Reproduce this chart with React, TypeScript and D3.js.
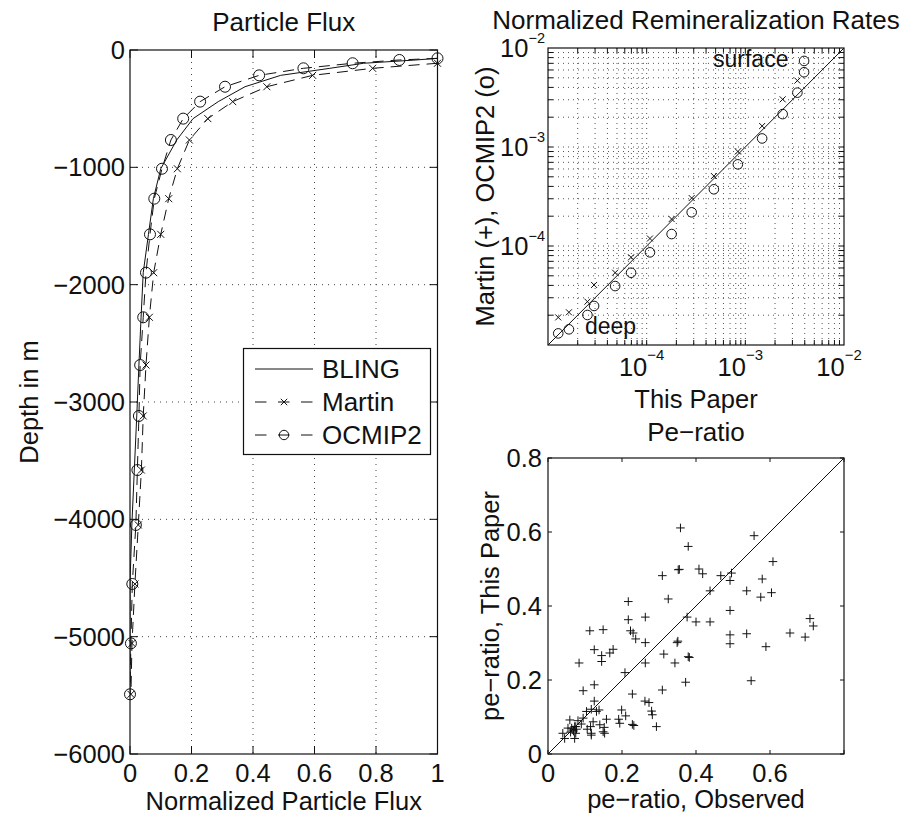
import React from 'react'
import * as d3 from 'd3'

// ---- Particle flux profiles (left panel) ----
const depthLevels = [-71, -85, -113, -156, -216, -313, -440, -585, -767, -1012, -1267, -1571, -1898, -2278, -2685, -3119, -3580, -4048, -4551, -5057, -5491]
const blingFlux = [1.0, 0.93, 0.76, 0.65, 0.49, 0.374, 0.287, 0.205, 0.152, 0.1, 0.076, 0.06, 0.043, 0.036, 0.029, 0.022, 0.014, 0.006, 0.0, 0.0, 0.0]
const martinFlux = [null, null, 1.0, 0.789, 0.594, 0.445, 0.334, 0.253, 0.193, 0.154, 0.126, 0.1, 0.077, 0.063, 0.052, 0.043, 0.037, 0.027, 0.016, 0.0065, 0.003]
const ocmipFlux = [1.0, 0.876, 0.724, 0.564, 0.42, 0.309, 0.228, 0.173, 0.133, 0.104, 0.079, 0.065, 0.052, 0.043, 0.033, 0.029, 0.024, 0.019, 0.0075, 0.003, 0.0]
const fluxTicks = [0, 0.2, 0.4, 0.6, 0.8, 1]
const depthTicks = [-6000, -5000, -4000, -3000, -2000, -1000, 0]

// ---- Normalized remineralization rates (top right) ----
const paperRate = [3.94e-3, 3.94e-3, 3.37e-3, 2.39e-3, 1.48e-3, 8.4e-4, 4.8e-4, 2.86e-4, 1.79e-4, 1.08e-4, 6.95e-5, 4.79e-5, 2.93e-5, 2.51e-5, 1.63e-5, 1.27e-5]
const ocmipRate = [7.4e-3, 5.69e-3, 3.54e-3, 2.15e-3, 1.22e-3, 6.68e-4, 3.74e-4, 2.19e-4, 1.32e-4, 8.63e-5, 5.37e-5, 3.94e-5, 2.48e-5, 2.01e-5, 1.44e-5, 1.31e-5]
const martinRate = [null, null, 4.68e-3, 3.03e-3, 1.63e-3, 9.0e-4, 5.09e-4, 3.05e-4, 1.87e-4, 1.19e-4, 7.69e-5, 5.37e-5, 4.04e-5, 2.74e-5, 2.14e-5, 1.9e-5]
const rateExponents = [-4, -3, -2]

// ---- Pe-ratio scatter (bottom right) ----
const peObserved = [0.358, 0.557, 0.379, 0.608, 0.352, 0.355, 0.408, 0.418, 0.309, 0.467, 0.496, 0.492, 0.579, 0.438, 0.537, 0.604, 0.575, 0.325, 0.217, 0.492,
  0.217, 0.263, 0.376, 0.4, 0.438, 0.708, 0.717, 0.113, 0.149, 0.223, 0.23, 0.237, 0.263, 0.349, 0.351, 0.492, 0.492, 0.537, 0.589, 0.654,
  0.695, 0.125, 0.176, 0.167, 0.145, 0.145, 0.084, 0.263, 0.313, 0.343, 0.379, 0.382, 0.208, 0.372, 0.549, 0.125, 0.095, 0.309, 0.228, 0.125,
  0.262, 0.273, 0.199, 0.28, 0.282, 0.138, 0.117, 0.104, 0.21, 0.191, 0.228, 0.232, 0.293, 0.194, 0.158, 0.152, 0.149, 0.14, 0.122, 0.115,
  0.117, 0.106, 0.095, 0.09, 0.081, 0.072, 0.068, 0.075, 0.059, 0.054, 0.045, 0.072, 0.04, 0.064, 0.069, 0.077, 0.061, 0.075, 0.131, 0.153, 0.117]
const peModel = [0.611, 0.59, 0.561, 0.52, 0.498, 0.499, 0.5, 0.487, 0.482, 0.482, 0.489, 0.469, 0.473, 0.441, 0.441, 0.436, 0.424, 0.419, 0.412, 0.388,
  0.363, 0.37, 0.37, 0.357, 0.357, 0.366, 0.346, 0.333, 0.336, 0.333, 0.327, 0.311, 0.301, 0.301, 0.305, 0.322, 0.298, 0.325, 0.29, 0.327,
  0.316, 0.282, 0.283, 0.273, 0.266, 0.25, 0.246, 0.246, 0.27, 0.246, 0.263, 0.261, 0.22, 0.194, 0.198, 0.187, 0.171, 0.173, 0.162, 0.143,
  0.143, 0.139, 0.119, 0.116, 0.106, 0.119, 0.121, 0.115, 0.103, 0.094, 0.08, 0.077, 0.074, 0.083, 0.094, 0.072, 0.06, 0.079, 0.087, 0.074,
  0.051, 0.067, 0.097, 0.081, 0.09, 0.074, 0.065, 0.056, 0.092, 0.07, 0.042, 0.042, 0.056, 0.07, 0.062, 0.067, 0.059, 0.074, 0.115, 0.056, 0.056]
const peTicks = [0, 0.2, 0.4, 0.6, 0.8]
const peXLabels = [0, 0.2, 0.4, 0.6]

const FONT = '"Liberation Sans", Arial, Helvetica, sans-serif'
const FS = 25.5
const INK = '#111'

const fmt = (v: number) => (v < 0 ? '\u2212' + Math.abs(v) : String(v))

const Cross = ({ x, y, s }: { x: number; y: number; s: number }) => (
  <path d={`M${x - s},${y - s}L${x + s},${y + s}M${x - s},${y + s}L${x + s},${y - s}`} stroke={INK} strokeWidth={1} />
)
const Plus = ({ x, y, s }: { x: number; y: number; s: number }) => (
  <path d={`M${x - s},${y}L${x + s},${y}M${x},${y - s}L${x},${y + s}`} stroke={INK} strokeWidth={1} />
)

function FluxPanel() {
  const x = d3.scaleLinear().domain([0, 1]).range([130, 437.5])
  const y = d3.scaleLinear().domain([-6000, 0]).range([754, 50])
  const [x0, x1] = x.range()
  const [y1, y0] = y.range()
  const line = d3.line<[number, number | null]>()
    .defined(d => d[1] != null)
    .x(d => x(d[1] as number))
    .y(d => y(d[0]))
  const rows = (vals: (number | null)[]) => depthLevels.map((d, i) => [d, vals[i]] as [number, number | null])
  const tick = 8
  return (
    <g>
      <defs>
        <clipPath id="fluxClip"><rect x={x0} y={y0} width={x1 - x0} height={y1 - y0} /></clipPath>
      </defs>
      {fluxTicks.slice(1, -1).map(t => (
        <line key={'gx' + t} x1={x(t)} x2={x(t)} y1={y0} y2={y1} stroke="#444" strokeDasharray="1,5" />
      ))}
      {depthTicks.slice(1, -1).map(t => (
        <line key={'gy' + t} x1={x0} x2={x1} y1={y(t)} y2={y(t)} stroke="#444" strokeDasharray="1,5" />
      ))}
      <g clipPath="url(#fluxClip)" fill="none">
        <path d={line(rows(blingFlux)) || ''} stroke={INK} strokeWidth={1} />
        <path d={line(rows(martinFlux)) || ''} stroke={INK} strokeWidth={1} strokeDasharray="11,7" />
        <path d={line(rows(ocmipFlux)) || ''} stroke={INK} strokeWidth={1} strokeDasharray="11,7" />
      </g>
      {rows(martinFlux).filter(d => d[1] != null).map((d, i) => (
        <Cross key={'m' + i} x={x(d[1] as number)} y={y(d[0])} s={3.5} />
      ))}
      {rows(ocmipFlux).map((d, i) => (
        <circle key={'o' + i} cx={x(d[1] as number)} cy={y(d[0])} r={5.5} fill="none" stroke={INK} />
      ))}
      <rect x={x0} y={y0} width={x1 - x0} height={y1 - y0} fill="none" stroke={INK} strokeWidth={1.2} />
      {fluxTicks.map(t => (
        <g key={'tx' + t}>
          <line x1={x(t)} x2={x(t)} y1={y1} y2={y1 - tick} stroke={INK} />
          <line x1={x(t)} x2={x(t)} y1={y0} y2={y0 + tick} stroke={INK} />
          <text x={x(t)} y={782} textAnchor="middle" fontSize={FS}>{t}</text>
        </g>
      ))}
      {depthTicks.map(t => (
        <g key={'ty' + t}>
          <line x1={x0} x2={x0 + tick} y1={y(t)} y2={y(t)} stroke={INK} />
          <line x1={x1} x2={x1 - tick} y1={y(t)} y2={y(t)} stroke={INK} />
          <text x={125} y={y(t) + 9} textAnchor="end" fontSize={FS}>{fmt(t)}</text>
        </g>
      ))}
      <text x={(x0 + x1) / 2} y={31} textAnchor="middle" fontSize={26}>Particle Flux</text>
      <text x={(x0 + x1) / 2} y={810} textAnchor="middle" fontSize={FS}>Normalized Particle Flux</text>
      <text transform={`translate(38,${(y0 + y1) / 2}) rotate(-90)`} textAnchor="middle" fontSize={FS}>Depth in m</text>
      {/* legend */}
      <rect x={243.5} y={348.5} width={187} height={106} fill="#fff" stroke={INK} strokeWidth={1.2} />
      <line x1={255} x2={313} y1={369} y2={369} stroke={INK} />
      <text x={322} y={378} fontSize={26}>BLING</text>
      <line x1={255} x2={313} y1={402} y2={402} stroke={INK} strokeDasharray="11.5,11.5" />
      <Cross x={284} y={402} s={3.2} />
      <text x={322} y={411} fontSize={26}>Martin</text>
      <line x1={255} x2={313} y1={435} y2={435} stroke={INK} strokeDasharray="11.5,11.5" />
      <circle cx={284} cy={435} r={4.7} fill="none" stroke={INK} />
      <text x={322} y={444} fontSize={26}>OCMIP2</text>
    </g>
  )
}

function RatePanel() {
  const x = d3.scaleLog().domain([1e-5, 1e-2]).range([548, 844])
  const y = d3.scaleLog().domain([1e-5, 1e-2]).range([345, 48])
  const [x0, x1] = x.range()
  const [y1, y0] = y.range()
  const minor: number[] = []
  for (let e = -5; e < -2; e++) for (let k = 1; k <= 9; k++) minor.push(k * Math.pow(10, e))
  const gridVals = minor.filter(v => v > 1e-5 * 1.001)
  const tick = 5
  return (
    <g>
      {gridVals.map((v, i) => (
        <g key={'g' + i}>
          <line x1={x(v)} x2={x(v)} y1={y0} y2={y1} stroke="#555" strokeDasharray="1,4" />
          <line x1={x0} x2={x1} y1={y(v)} y2={y(v)} stroke="#555" strokeDasharray="1,4" />
          <line x1={x(v)} x2={x(v)} y1={y1} y2={y1 - tick} stroke={INK} />
          <line x1={x(v)} x2={x(v)} y1={y0} y2={y0 + tick} stroke={INK} />
          <line x1={x0} x2={x0 + tick} y1={y(v)} y2={y(v)} stroke={INK} />
          <line x1={x1} x2={x1 - tick} y1={y(v)} y2={y(v)} stroke={INK} />
        </g>
      ))}
      <line x1={x(1e-5)} y1={y(1e-5)} x2={x(1e-2)} y2={y(1e-2)} stroke={INK} />
      {paperRate.map((p, i) => (
        <circle key={'o' + i} cx={x(p)} cy={y(ocmipRate[i])} r={4.8} fill="none" stroke={INK} />
      ))}
      {paperRate.map((p, i) => martinRate[i] == null ? null : (
        <Cross key={'m' + i} x={x(p)} y={y(martinRate[i] as number)} s={3} />
      ))}
      <rect x={x0} y={y0} width={x1 - x0} height={y1 - y0} fill="none" stroke={INK} strokeWidth={1.2} />
      <text x={713} y={67} fontSize={23}>surface</text>
      <text x={585} y={334} fontSize={23}>deep</text>
      {rateExponents.map(e => (
        <g key={'e' + e}>
          <text x={x(Math.pow(10, e)) - 5} y={376} textAnchor="middle" fontSize={FS}>
            10<tspan dy={-16} fontSize={15}>{'\u2212' + Math.abs(e)}</tspan>
          </text>
          <text x={545} y={y(Math.pow(10, e)) + 9} textAnchor="end" fontSize={FS}>
            10<tspan dy={-14} fontSize={14.5}>{'\u2212' + Math.abs(e)}</tspan>
          </text>
        </g>
      ))}
      <text x={(x0 + x1) / 2} y={29} textAnchor="middle" fontSize={26}>Normalized Remineralization Rates</text>
      <text x={(x0 + x1) / 2} y={408} textAnchor="middle" fontSize={FS}>This Paper</text>
      <text transform={`translate(494,${(y0 + y1) / 2}) rotate(-90)`} textAnchor="middle" fontSize={FS}>Martin (+), OCMIP2 (o)</text>
    </g>
  )
}

function PePanel() {
  const x = d3.scaleLinear().domain([0, 0.8]).range([548, 844])
  const y = d3.scaleLinear().domain([0, 0.8]).range([754, 458])
  const [x0, x1] = x.range()
  const [y1, y0] = y.range()
  const tick = 4
  return (
    <g>
      <line x1={x(0)} y1={y(0)} x2={x(0.8)} y2={y(0.8)} stroke={INK} />
      {peObserved.map((o, i) => (
        <Plus key={'p' + i} x={x(o)} y={y(peModel[i])} s={4.3} />
      ))}
      <rect x={x0} y={y0} width={x1 - x0} height={y1 - y0} fill="none" stroke={INK} strokeWidth={1.2} />
      {peTicks.map(t => (
        <g key={'t' + t}>
          <line x1={x(t)} x2={x(t)} y1={y1} y2={y1 - tick} stroke={INK} />
          <line x1={x(t)} x2={x(t)} y1={y0} y2={y0 + tick} stroke={INK} />
          <line x1={x0} x2={x0 + tick} y1={y(t)} y2={y(t)} stroke={INK} />
          <line x1={x1} x2={x1 - tick} y1={y(t)} y2={y(t)} stroke={INK} />
          <text x={542} y={y(t) + 9} textAnchor="end" fontSize={FS}>{t}</text>
        </g>
      ))}
      {peXLabels.map(t => (
        <text key={'xl' + t} x={x(t)} y={782} textAnchor="middle" fontSize={FS}>{t}</text>
      ))}
      <text x={(x0 + x1) / 2} y={441} textAnchor="middle" fontSize={26}>Pe{'\u2212'}ratio</text>
      <text x={(x0 + x1) / 2} y={808} textAnchor="middle" fontSize={FS}>pe{'\u2212'}ratio, Observed</text>
      <text transform={`translate(499,${(y0 + y1) / 2}) rotate(-90)`} textAnchor="middle" fontSize={FS}>pe{'\u2212'}ratio, This Paper</text>
    </g>
  )
}

export default function App() {
  return (
    <svg width={907} height={817} style={{ position: 'absolute', left: 0, top: 0, background: '#fff' }}
      fontFamily={FONT} fill={INK}>
      <rect width={907} height={817} fill="#fff" />
      <FluxPanel />
      <RatePanel />
      <PePanel />
    </svg>
  )
}
